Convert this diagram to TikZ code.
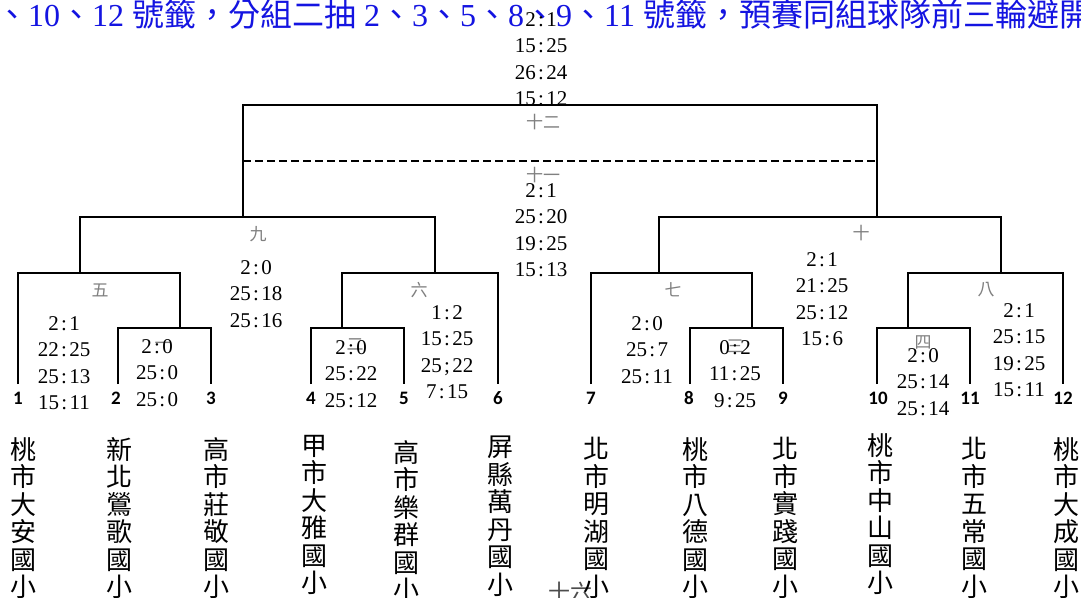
\documentclass[tikz,border=0pt]{standalone}
\usepackage{fontspec}
\setmainfont{Liberation Serif}
\newfontfamily\cjk{Noto Sans CJK TC}
\newfontfamily\numf{Carlito}
\definecolor{hblue}{RGB}{20,20,225}
\newcommand\cl{\makebox[0.5em]{:}}
\newcommand\sm{\makebox[0.5em]{;}}
\begin{document}
\begin{tikzpicture}[x=1pt,y=-1pt,
  br/.style={line width=1.9pt},
  score/.style={anchor=north, align=center, inner sep=0pt, font=\fontsize{21}{26.5}\selectfont},
  lab/.style={text=gray, font=\cjk\fontsize{17}{17}\selectfont, inner sep=0pt},
  num/.style={anchor=base, inner sep=0pt, font=\numf\bfseries\fontsize{19}{19}\selectfont},
  team/.style={anchor=north, align=center, inner sep=0pt, font=\cjk\fontsize{26}{27.5}\selectfont}
]
\useasboundingbox[fill=white] (0,0) rectangle (1081,597);

% heading
\node[anchor=base west, inner sep=0pt, text=hblue, font=\fontsize{32}{32}\selectfont] (head) at (-4,26.5)
 {{\cjk 、}10{\cjk 、}12 {\cjk 號籤，分組二抽} 2{\cjk 、}3{\cjk 、}5{\cjk 、}8{\cjk 、}9{\cjk 、}11 {\cjk 號籤，預賽同組球隊前三輪避開}};

% leg ends (teams)
\coordinate (t1) at (18,384);
\coordinate (t2) at (118,384);
\coordinate (t3) at (211,384);
\coordinate (t4) at (311,384);
\coordinate (t5) at (404,384);
\coordinate (t6) at (498,384);
\coordinate (t7) at (591,384);
\coordinate (t8) at (690,384);
\coordinate (t9) at (783,384);
\coordinate (t10) at (877,384);
\coordinate (t11) at (970,384);
\coordinate (t12) at (1063,384);
% match junctions
\coordinate (m1) at (180,328);
\coordinate (m2) at (342,328);
\coordinate (m3) at (752,328);
\coordinate (m4) at (908,328);
\coordinate (m5) at (80,273);
\coordinate (m6) at (435,273);
\coordinate (m7) at (659,273);
\coordinate (m8) at (1001,273);
\coordinate (m9) at (243,217);
\coordinate (m10) at (877,217);
\coordinate (fin) at (560,105);
\coordinate (third) at (560,161);

% brackets
\draw[br] (t2) |- (m1) -| (t3);
\draw[br] (t4) |- (m2) -| (t5);
\draw[br] (t8) |- (m3) -| (t9);
\draw[br] (t10) |- (m4) -| (t11);
\draw[br] (t1) |- (m5) -| (m1);
\draw[br] (m2) |- (m6) -| (t6);
\draw[br] (t7) |- (m7) -| (m3);
\draw[br] (m4) |- (m8) -| (t12);
\draw[br] (m5) |- (m9) -| (m6);
\draw[br] (m7) |- (m10) -| (m8);
\draw[br] (m9) |- (fin) -| (m10);
\draw[br, dash pattern=on 8pt off 4pt] (third -| m9) -- (third -| m10);

% round labels
\node[lab] (l12) at (543,122) {十二};
\node[lab] (l11) at (543,175) {十一};
\node[lab] (l9) at (258,234) {九};
\node[lab] (l10) at (861,233) {十};
\node[lab] (l5) at (100,290) {五};
\node[lab] (l6) at (419,290) {六};
\node[lab] (l7) at (673,290) {七};
\node[lab] (l8) at (986,290) {八};
\node[lab] (l1) at (163,346) {一};
\node[lab] (l2) at (355,345) {二};
\node[lab] (l3) at (735,346) {三};
\node[lab] (l4) at (923,342) {四};
\node[anchor=north, inner sep=0pt, text=black!70, font=\cjk\fontsize{22}{22}\selectfont] (l16) at (570,582) {十六};

% scores
\node[score] (sF) at (541,12) {2\cl 1\\15\cl 25\\26\cl 24\\15\cl 12};
\node[score] (sS) at (541,183) {2\cl 1\\25\cl 20\\19\cl 25\\15\cl 13};
\node[score] (s9) at (256,260) {2\cl 0\\25\cl 18\\25\cl 16};
\node[score] (s10) at (822,252) {2\cl 1\\21\cl 25\\25\cl 12\\15\cl 6};
\node[score] (s5) at (64,316) {2\cl 1\\22\cl 25\\25\cl 13\\15\cl 11};
\node[score] (s6) at (447,305) {1\cl 2\\15\cl 25\\25\sm 22\\7\cl 15};
\node[score] (s7) at (647,316) {2\cl 0\\25\cl 7\\25\cl 11};
\node[score] (s8) at (1019,303) {2\cl 1\\25\cl 15\\19\cl 25\\15\cl 11};
\node[score] (s1) at (157,339) {2\cl 0\\25\cl 0\\25\cl 0};
\node[score] (s2) at (351,340) {2\cl 0\\25\cl 22\\25\cl 12};
\node[score] (s3) at (735,340) {0\cl 2\\11\cl 25\\9\cl 25};
\node[score] (s4) at (923,348) {2\cl 0\\25\cl 14\\25\cl 14};

% team numbers
\node[num] (n1) at (18,404) {1};
\node[num] (n2) at (116,404) {2};
\node[num] (n3) at (211,404) {3};
\node[num] (n4) at (311,404) {4};
\node[num] (n5) at (404,404) {5};
\node[num] (n6) at (498,404) {6};
\node[num] (n7) at (591,404) {7};
\node[num] (n8) at (689,404) {8};
\node[num] (n9) at (783,404) {9};
\node[num] (n10) at (878,404) {10};
\node[num] (n11) at (970,404) {11};
\node[num] (n12) at (1063,404) {12};

% team names
\node[team] (T1) at (23,437) {桃\\市\\大\\安\\國\\小};
\node[team] (T2) at (119,437) {新\\北\\鶯\\歌\\國\\小};
\node[team] (T3) at (216,437) {高\\市\\莊\\敬\\國\\小};
\node[team] (T4) at (314,435) {甲\\市\\大\\雅\\國\\小};
\node[team] (T5) at (406,440) {高\\市\\樂\\群\\國\\小};
\node[team] (T6) at (500,436) {屏\\縣\\萬\\丹\\國\\小};
\node[team] (T7) at (596,437) {北\\市\\明\\湖\\國\\小};
\node[team] (T8) at (695,437) {桃\\市\\八\\德\\國\\小};
\node[team] (T9) at (785,437) {北\\市\\實\\踐\\國\\小};
\node[team] (T10) at (880,433) {桃\\市\\中\\山\\國\\小};
\node[team] (T11) at (974,437) {北\\市\\五\\常\\國\\小};
\node[team] (T12) at (1066,437) {桃\\市\\大\\成\\國\\小};
\end{tikzpicture}
\end{document}
